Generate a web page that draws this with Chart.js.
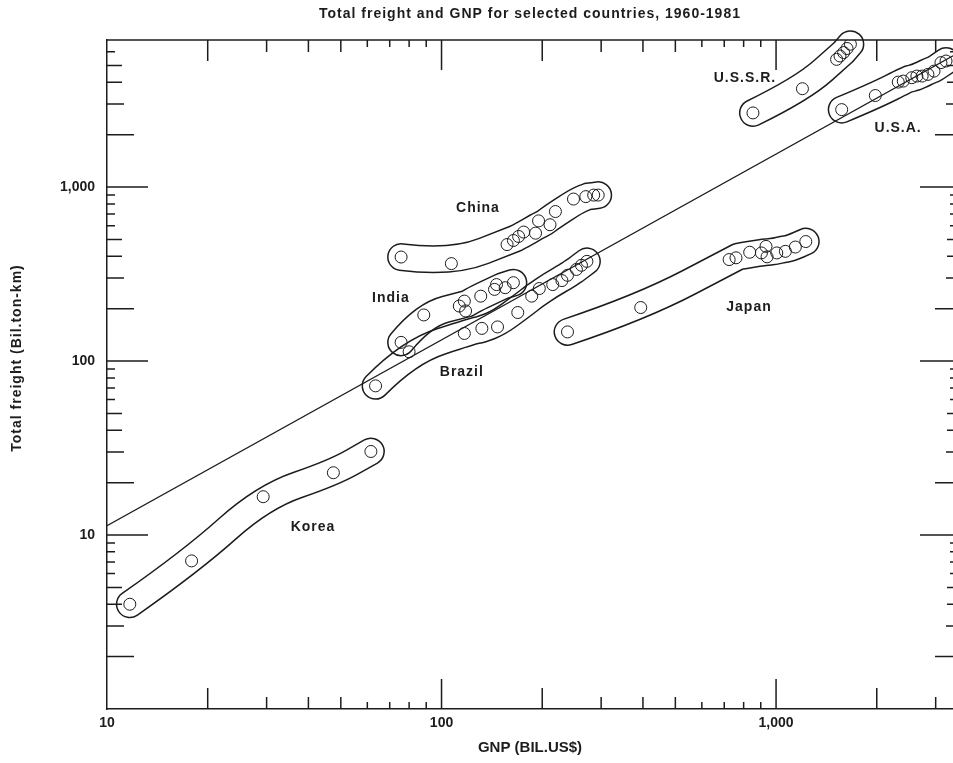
<!DOCTYPE html>
<html>
<head>
<meta charset="utf-8">
<title>Total freight and GNP for selected countries, 1960-1981</title>
<script src="https://cdn.jsdelivr.net/npm/chart.js@4.4.1/dist/chart.umd.min.js"></script>
<style>
  html, body { margin: 0; padding: 0; background: #fff; }
  #wrap { width: 953px; height: 763px; position: relative; }
</style>
</head>
<body>
<div id="wrap"><canvas id="freightChart"></canvas></div>
<script>
// values: GNP (bil. US$) against total freight (bil. ton-km)
const koreaGnp = [11.7, 17.9, 29.3, 47.5, 61.5];
const koreaFreight = [4.0, 7.1, 16.6, 22.8, 30.2];

const brazilGnp = [63.5, 80, 117, 132, 147, 169, 186, 196, 215, 229, 238, 253, 262, 272];
const brazilFreight = [72, 113, 144, 154, 157, 190, 236, 261, 275, 290, 311, 336, 355, 374];

const indiaGnp = [75.7, 88.5, 113, 117, 118, 131, 144, 146, 155, 164];
const indiaFreight = [128, 184, 207, 221, 194, 236, 258, 275, 264, 282];

const chinaGnp = [75.7, 107, 157, 164, 170, 176, 191, 195, 211, 219, 248, 270, 285, 294];
const chinaFreight = [396, 363, 467, 493, 520, 551, 543, 639, 607, 723, 853, 881, 899, 899];

const japanGnp = [238, 394, 724, 759, 834, 904, 933, 940, 1005, 1066, 1142, 1227];
const japanFreight = [147, 203, 383, 392, 422, 418, 456, 397, 418, 427, 452, 486];

const ussrGnp = [853, 1199, 1517, 1553, 1592, 1630, 1668];
const ussrFreight = [2667, 3673, 5418, 5664, 5928, 6255, 6622];

const usaGnp = [1571, 1980, 2319, 2400, 2545, 2636, 2733, 2844, 2966, 3111, 3222];
const usaFreight = [2786, 3357, 4010, 4063, 4250, 4343, 4343, 4440, 4637, 5188, 5300];

// fitted line, two ends
const fitGnp = [10, 3380];
const fitFreight = [11.3, 5680];

// country name labels, placed in data units
const countryNames = ['U.S.S.R.', 'U.S.A.', 'China', 'India', 'Brazil', 'Japan', 'Korea'];
const labelGnp = [807, 2317, 128.5, 70.6, 115, 830, 41.3];
const labelFreight = [4230, 2183, 757, 230, 86.4, 204, 11.1];

// axes
const xTickValues = [10, 100, 1000];
const xTickLabels = ['10', '100', '1,000'];
const yTickValues = [10, 100, 1000];
const yTickLabels = ['10', '100', '1,000'];

const countries = [
    { name: 'Korea', gnp: koreaGnp, freight: koreaFreight },
    { name: 'Brazil', gnp: brazilGnp, freight: brazilFreight },
    { name: 'India', gnp: indiaGnp, freight: indiaFreight },
    { name: 'China', gnp: chinaGnp, freight: chinaFreight },
    { name: 'Japan', gnp: japanGnp, freight: japanFreight },
    { name: 'U.S.S.R.', gnp: ussrGnp, freight: ussrFreight },
    { name: 'U.S.A.', gnp: usaGnp, freight: usaFreight }
];

const FONT = '"Liberation Sans", Arial, sans-serif';
const INK = '#1c1c1c';

// tick mark lengths by mantissa (1..9)
const xTickLen = [0, 30, 21, 12, 12, 12, 7, 7, 7, 7];
const yLeftLen = [0, 41, 27, 17, 15, 15, 8, 8, 8, 8];
const yRightLen = [0, 33, 18, 7, 6, 6, 3, 3, 3, 3];

function decadeTicks(min, max) {
    const out = [];
    for (let e = Math.floor(Math.log10(min)); e <= Math.ceil(Math.log10(max)); e++) {
        for (let m = 1; m <= 9; m++) {
            const v = m * Math.pow(10, e);
            if (v >= min && v <= max) out.push({ value: v });
        }
    }
    return out;
}

function mantissa(v) {
    return Math.round(v / Math.pow(10, Math.floor(Math.log10(v) + 1e-9)));
}

function avg(arr) {
    return arr.reduce((s, v) => s + v, 0) / arr.length;
}

// hand-drawn style loops around each country's points
const envelopes = {
    id: 'envelopes',
    beforeDatasetsDraw(chart) {
        const { ctx, scales: { x, y } } = chart;
        const dpr = chart.currentDevicePixelRatio || 1;
        const off = document.createElement('canvas');
        off.width = chart.canvas.width;
        off.height = chart.canvas.height;
        const oc = off.getContext('2d');
        oc.scale(dpr, dpr);

        countries.forEach(c => {
            const pts = c.gnp
                .map((g, i) => ({ px: x.getPixelForValue(g), py: y.getPixelForValue(c.freight[i]) }))
                .sort((a, b) => a.px - b.px);
            // pull clustered points onto a centre line, keep the two ends
            const spine = pts.map((p, i) => {
                if (i === 0 || i === pts.length - 1) return p;
                const near = pts.filter(q => Math.abs(q.px - p.px) < 22);
                return { px: avg(near.map(q => q.px)), py: avg(near.map(q => q.py)) };
            });

            oc.clearRect(0, 0, chart.width, chart.height);
            oc.beginPath();
            oc.moveTo(spine[0].px, spine[0].py);
            for (let i = 1; i < spine.length - 1; i++) {
                const mx = (spine[i].px + spine[i + 1].px) / 2;
                const my = (spine[i].py + spine[i + 1].py) / 2;
                oc.quadraticCurveTo(spine[i].px, spine[i].py, mx, my);
            }
            oc.lineTo(spine[spine.length - 1].px, spine[spine.length - 1].py);
            oc.lineCap = 'round';
            oc.lineJoin = 'round';
            oc.globalCompositeOperation = 'source-over';
            oc.strokeStyle = INK;
            oc.lineWidth = 28;
            oc.stroke();
            oc.globalCompositeOperation = 'destination-out';
            oc.lineWidth = 25;
            oc.stroke();
            oc.globalCompositeOperation = 'source-over';
            ctx.drawImage(off, 0, 0, chart.width, chart.height);
        });
    }
};

// top border plus inward ticks on all four sides
const frameTicks = {
    id: 'frameTicks',
    afterDraw(chart) {
        const { ctx, chartArea: a, scales: { x, y } } = chart;
        ctx.save();
        ctx.strokeStyle = INK;
        ctx.lineWidth = 1.5;
        ctx.beginPath();
        ctx.moveTo(a.left, a.top);
        ctx.lineTo(a.right, a.top);
        x.ticks.forEach(t => {
            const px = x.getPixelForValue(t.value);
            if (px <= a.left + 1 || px >= a.right - 1) return;
            const len = xTickLen[mantissa(t.value)];
            ctx.moveTo(px, a.bottom);
            ctx.lineTo(px, a.bottom - len);
            ctx.moveTo(px, a.top);
            ctx.lineTo(px, a.top + len);
        });
        y.ticks.forEach(t => {
            const py = y.getPixelForValue(t.value);
            if (py <= a.top + 1 || py >= a.bottom - 1) return;
            const m = mantissa(t.value);
            ctx.moveTo(a.left, py);
            ctx.lineTo(a.left + yLeftLen[m], py);
            ctx.moveTo(a.right, py);
            ctx.lineTo(a.right - yRightLen[m], py);
        });
        ctx.stroke();
        ctx.restore();
    }
};

// title, y axis title and the country names
const annotations = {
    id: 'annotations',
    afterDatasetsDraw(chart) {
        const { ctx, chartArea: a, scales: { x, y } } = chart;
        ctx.save();
        ctx.fillStyle = INK;
        ctx.textAlign = 'center';
        ctx.textBaseline = 'middle';
        ctx.letterSpacing = '1px';
        ctx.font = 'bold 14px ' + FONT;
        countryNames.forEach((n, i) => {
            ctx.fillText(n, x.getPixelForValue(labelGnp[i]), y.getPixelForValue(labelFreight[i]));
        });
        ctx.fillText('Total freight and GNP for selected countries, 1960-1981', (a.left + a.right) / 2, 14);
        ctx.translate(17, 358);
        ctx.rotate(-Math.PI / 2);
        ctx.fillText('Total freight (Bil.ton-km)', 0, 0);
        ctx.restore();
    }
};

const datasets = countries.map(c => ({
    label: c.name,
    data: c.gnp.map((g, i) => ({ x: g, y: c.freight[i] })),
    pointRadius: 6,
    pointHoverRadius: 6,
    pointBorderWidth: 1,
    borderColor: INK,
    backgroundColor: 'rgba(0,0,0,0)'
}));

datasets.push({
    label: 'Fit',
    type: 'line',
    data: fitGnp.map((g, i) => ({ x: g, y: fitFreight[i] })),
    borderColor: INK,
    borderWidth: 1.2,
    pointRadius: 0,
    fill: false
});

new Chart(document.getElementById('freightChart'), {
    type: 'scatter',
    data: { datasets },
    options: {
        responsive: true,
        maintainAspectRatio: false,
        animation: false,
        layout: { autoPadding: false, padding: { top: 40, right: 0, bottom: 0, left: 0 } },
        plugins: {
            legend: { display: false },
            tooltip: { enabled: false },
            title: { display: false }
        },
        scales: {
            x: {
                type: 'logarithmic',
                position: 'bottom',
                min: 10,
                max: 3380,
                afterBuildTicks: s => { s.ticks = decadeTicks(s.min, s.max); },
                afterFit: s => { s.height = 54; s.paddingLeft = 0; s.paddingRight = 0; },
                grid: { display: false, drawTicks: false },
                border: { display: true, color: INK, width: 1.5 },
                ticks: {
                    autoSkip: false,
                    maxRotation: 0,
                    padding: 6,
                    color: INK,
                    font: { family: FONT, size: 14, weight: 'bold' },
                    callback: v => {
                        const i = xTickValues.indexOf(v);
                        return i >= 0 ? xTickLabels[i] : '';
                    }
                },
                title: {
                    display: true,
                    text: 'GNP (BIL.US$)',
                    color: INK,
                    font: { family: FONT, size: 15, weight: 'bold' },
                    padding: { top: 0, bottom: 6 }
                }
            },
            y: {
                type: 'logarithmic',
                min: 1,
                max: 7000,
                afterBuildTicks: s => { s.ticks = decadeTicks(s.min, s.max); },
                afterFit: s => { s.width = 107; s.paddingTop = 0; s.paddingBottom = 0; },
                grid: { display: false, drawTicks: false },
                border: { display: true, color: INK, width: 1.5 },
                ticks: {
                    autoSkip: false,
                    padding: 12,
                    color: INK,
                    font: { family: FONT, size: 14, weight: 'bold' },
                    callback: v => {
                        const i = yTickValues.indexOf(v);
                        return i >= 0 ? yTickLabels[i] : '';
                    }
                }
            }
        }
    },
    plugins: [envelopes, frameTicks, annotations]
});
</script>
</body>
</html>
